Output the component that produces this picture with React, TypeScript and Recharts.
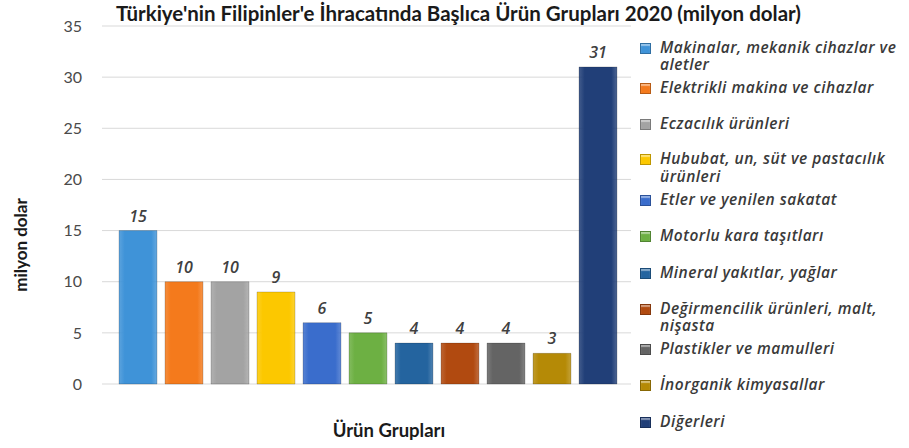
import React from "react"
import { BarChart, Bar, XAxis, YAxis, CartesianGrid, LabelList } from "recharts"

const groups = [
  "Makinalar, mekanik cihazlar ve aletler",
  "Elektrikli makina ve cihazlar",
  "Eczacılık ürünleri",
  "Hububat, un, süt ve pastacılık ürünleri",
  "Etler ve yenilen sakatat",
  "Motorlu kara taşıtları",
  "Mineral yakıtlar, yağlar",
  "Değirmencilik ürünleri, malt, nişasta",
  "Plastikler ve mamulleri",
  "İnorganik kimyasallar",
  "Diğerleri",
]
const values = [15, 10, 10, 9, 6, 5, 4, 4, 4, 3, 31]
const colors = [
  "#3f93d8", "#f47a1c", "#a3a3a3", "#fcc800", "#3a6dcc", "#6db043",
  "#24649f", "#b14a10", "#646464", "#b58a06", "#213f78",
]
const yTicks = [0, 5, 10, 15, 20, 25, 30, 35]

const row: Record<string, any> = { name: "2020" }
values.forEach((v, i) => (row["s" + i] = v))
const data = [row]

const font = "Lato, 'Open Sans', sans-serif"
const italicFont = "'Open Sans', Lato, sans-serif"

// small nudges so two-line legend entries don't touch the next one
const nudge: Record<number, number> = { 0: -1.5, 1: 1.5, 3: -1.5, 4: 1.5, 7: -1.5, 8: 1.5 }

function LegendList() {
  return (
    <div style={{ position: "absolute", left: 640, top: 40, width: 269, height: 400 }}>
      {groups.map((g, i) => (
        <div
          key={g}
          style={{
            position: "absolute",
            top: i * 37.3 + (nudge[i] || 0),
            left: 0,
            width: 269,
            display: "flex",
            alignItems: "flex-start",
            fontFamily: italicFont,
            fontStyle: "italic",
            fontWeight: 600,
            fontSize: 15.5,
            letterSpacing: 0.5,
            lineHeight: "17.5px",
            color: "#3a3a3a",
          }}
        >
          <span
            style={{
              display: "inline-block",
              width: 9,
              height: 9,
              marginTop: 4,
              marginRight: 9,
              flex: "0 0 auto",
              background: colors[i],
              border: "1px solid rgba(0,0,0,0.25)",
              boxShadow: "inset 0 2px 1px rgba(255,255,255,0.45)",
            }}
          />
          <span>{g}</span>
        </div>
      ))}
    </div>
  )
}

export default function App() {
  return (
    <div style={{ position: "absolute", left: 0, top: 0, width: 909, height: 448, background: "#fff" }}>
      <div
        style={{
          position: "absolute",
          left: 0,
          top: 1,
          width: 909,
          textAlign: "center",
          fontFamily: font,
          fontWeight: 700,
          fontSize: 20.5,
          color: "#1a1a1a",
          paddingLeft: 8,
          boxSizing: "border-box",
          whiteSpace: "nowrap",
        }}
      >
        Türkiye'nin Filipinler'e İhracatında Başlıca Ürün Grupları 2020 (milyon dolar)
      </div>
      <div
        style={{
          position: "absolute",
          left: 20,
          top: 245,
          transform: "translate(-50%, -50%) rotate(-90deg)",
          fontFamily: font,
          fontWeight: 700,
          fontSize: 17,
          color: "#1a1a1a",
          whiteSpace: "nowrap",
        }}
      >
        milyon dolar
      </div>
      <div
        style={{
          position: "absolute",
          left: 389,
          top: 430,
          transform: "translate(-50%, -50%)",
          fontFamily: font,
          fontWeight: 700,
          fontSize: 18.5,
          color: "#1a1a1a",
          whiteSpace: "nowrap",
        }}
      >
        Ürün Grupları
      </div>
      <div style={{ position: "absolute", left: 0, top: 0 }}>
        <BarChart
          width={909}
          height={448}
          data={data}
          margin={{ top: 26, right: 278, bottom: 64, left: 62 }}
          barCategoryGap={17}
          barGap={8}
        >
          <defs>
            {colors.map((c, i) => (
              <linearGradient key={i} id={"g" + i} x1="0" y1="0" x2="1" y2="0">
                <stop offset="0%" stopColor={c} stopOpacity={0.85} />
                <stop offset="15%" stopColor={c} />
                <stop offset="85%" stopColor={c} />
                <stop offset="100%" stopColor={c} stopOpacity={0.8} />
              </linearGradient>
            ))}
          </defs>
          <CartesianGrid vertical={false} stroke="#d9d9d9" />
          <XAxis dataKey="name" tick={false} axisLine={{ stroke: "#d9d9d9" }} tickLine={false} height={0} />
          <YAxis
            domain={[0, 35]}
            ticks={yTicks}
            width={40}
            axisLine={false}
            tickLine={false}
            tickSize={0}
            tickMargin={20}
            tick={{ fill: "#4a4a4a", fontSize: 16, fontFamily: font }}
          />
          {groups.map((g, i) => (
            <Bar
              key={g}
              dataKey={"s" + i}
              name={g}
              fill={"url(#g" + i + ")"}
              stroke="rgba(0,0,0,0.18)"
              isAnimationActive={false}
            >
              <LabelList
                dataKey={"s" + i}
                position="top"
                offset={9}
                style={{ fill: "#404040", fontStyle: "italic", fontWeight: 600, fontSize: 16, fontFamily: italicFont }}
              />
            </Bar>
          ))}
        </BarChart>
      </div>
      <LegendList />
    </div>
  )
}
